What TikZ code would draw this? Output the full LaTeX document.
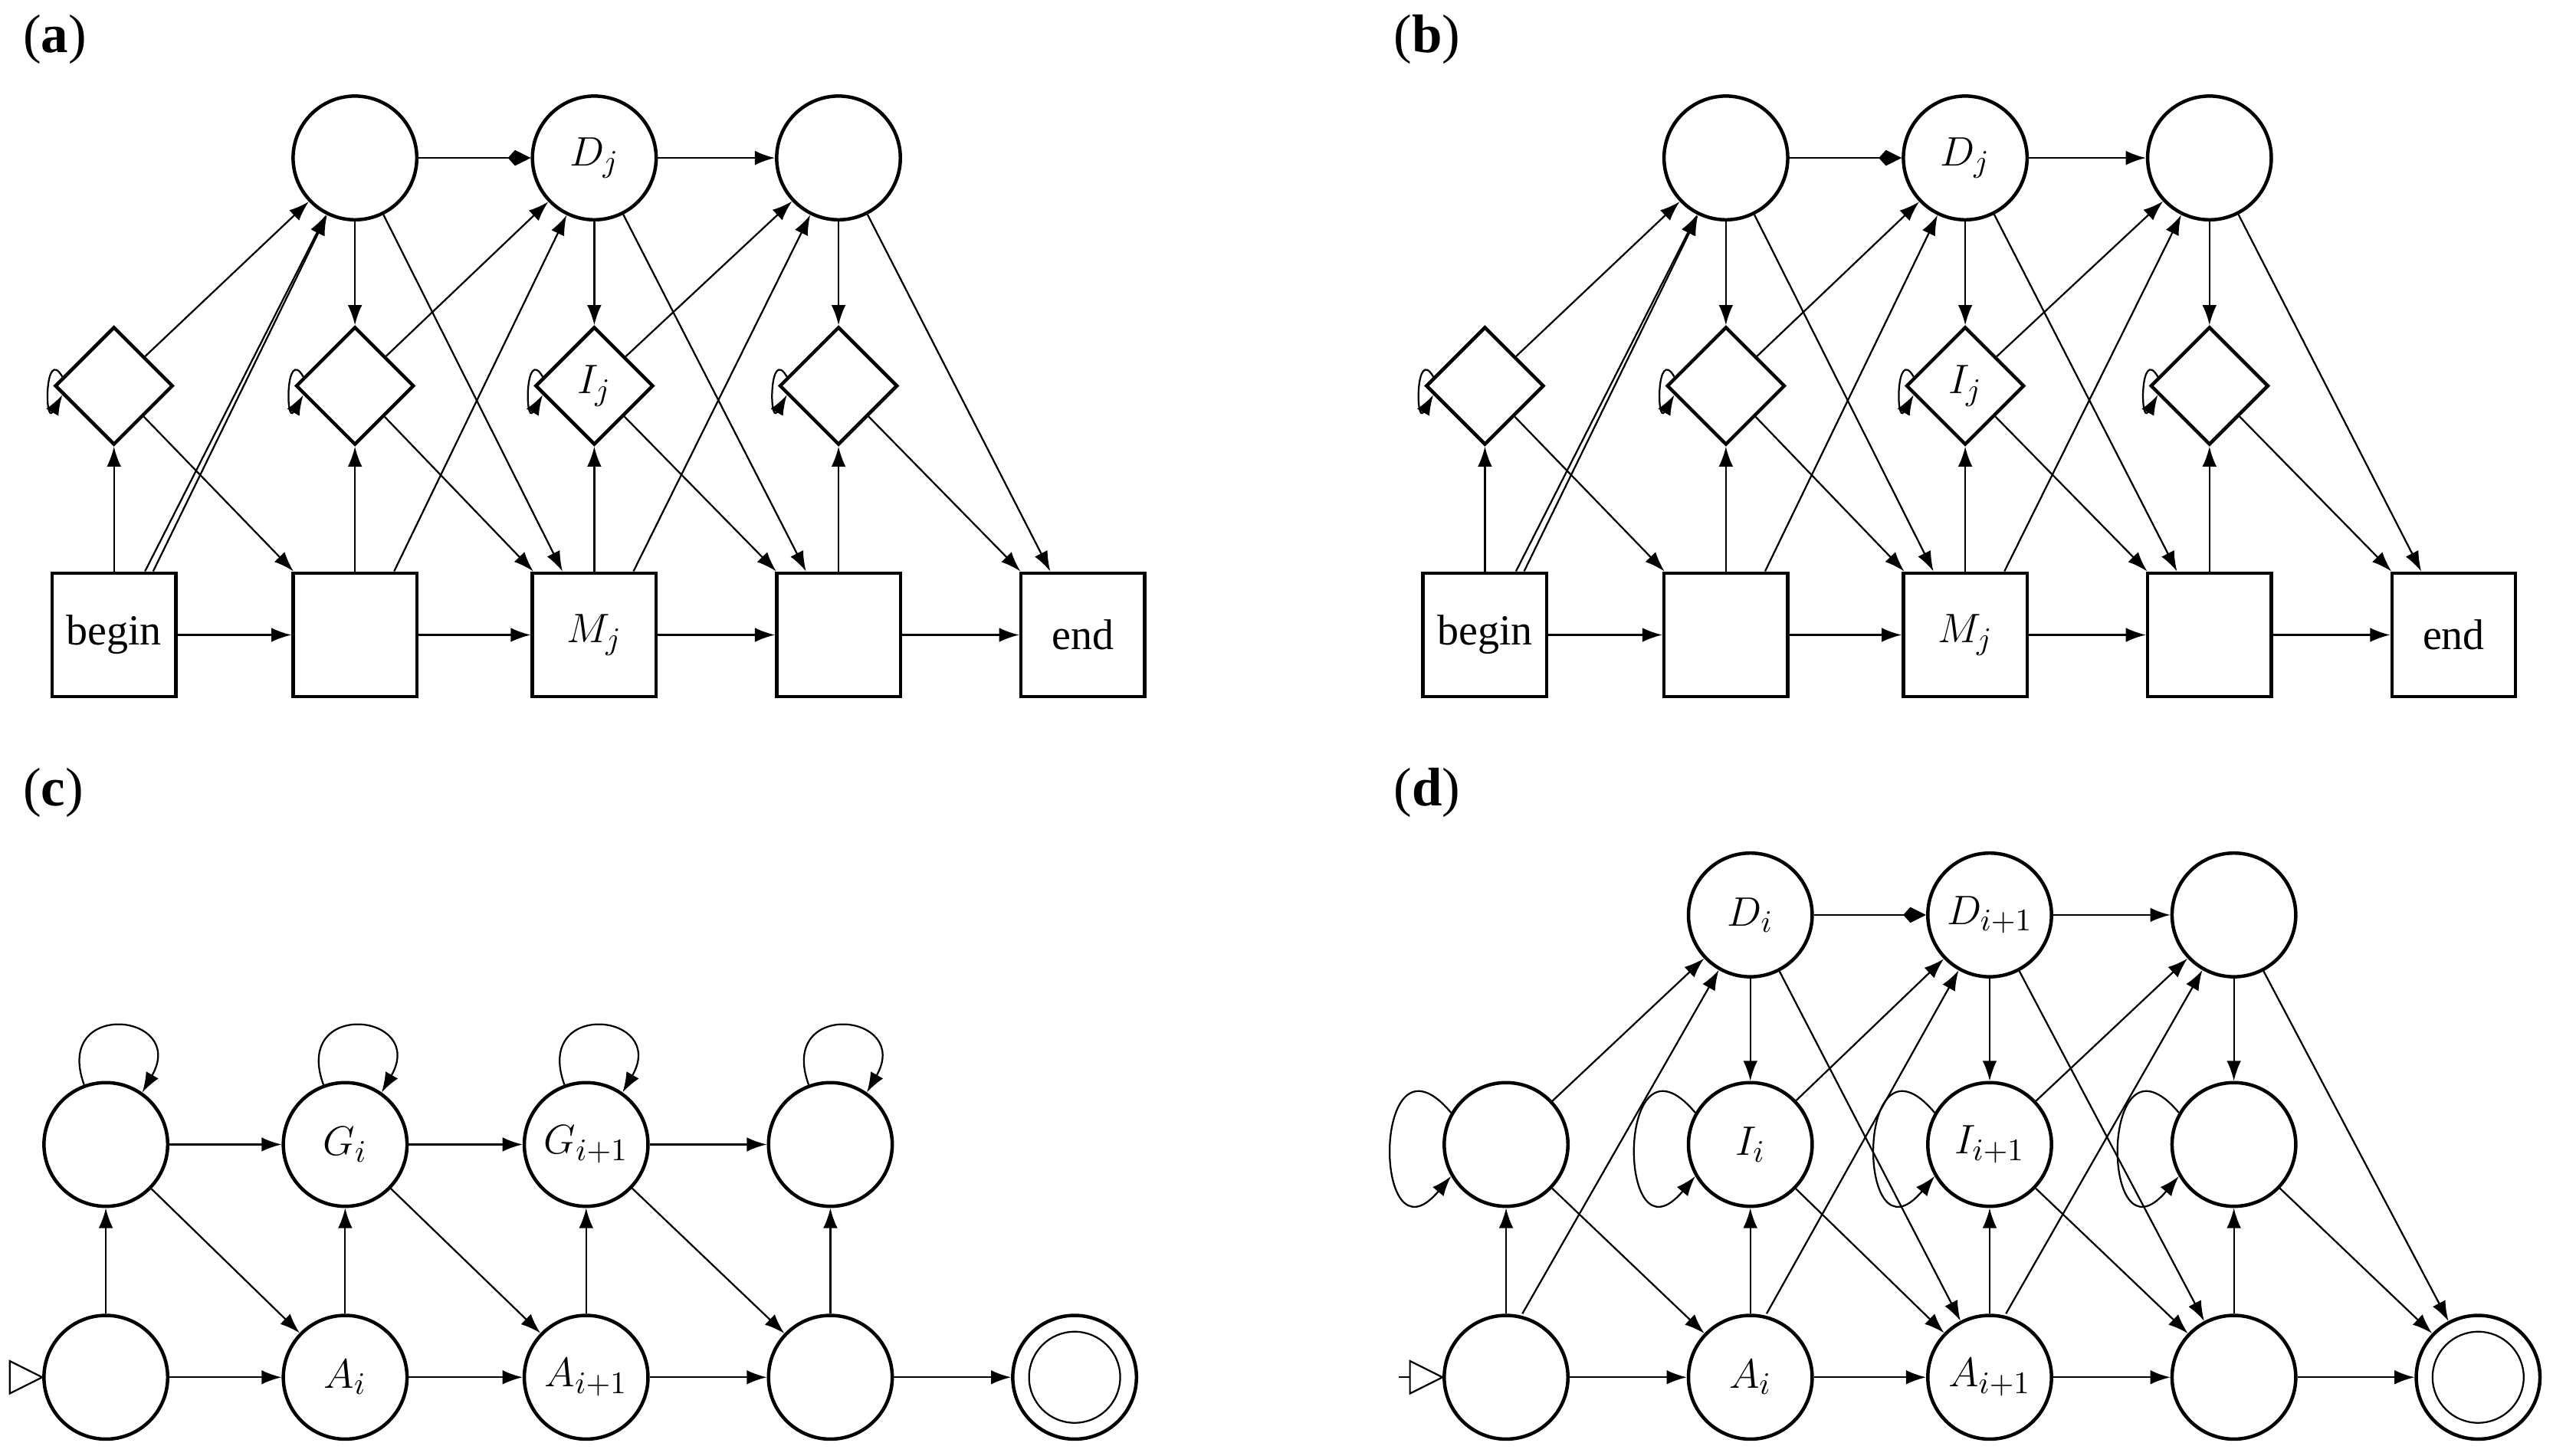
\documentclass[tikz,border=0pt]{standalone}
\usepackage{fontspec}
\setmainfont{Liberation Serif}
\usetikzlibrary{shapes.geometric,arrows.meta}
\begin{document}
\begin{tikzpicture}[x=0.02cm,y=-0.02cm,
  every node/.style={font=\fontsize{15}{18}\selectfont},
  c/.style={circle,draw,line width=1.2pt,minimum size=1.52cm,inner sep=0pt},
  d/.style={diamond,draw,line width=1.2pt,minimum size=1.45cm,inner sep=0pt},
  s/.style={rectangle,draw,line width=1.2pt,minimum size=1.52cm,inner sep=0pt},
  e/.style={-{Latex[length=7pt,width=5pt]},line width=0.6pt},
  k/.style={-{Kite[length=8pt,width=5.5pt,inset=2.5pt]},line width=0.6pt},
  pl/.style={font=\fontsize{19}{22}\selectfont,anchor=west}]
\useasboundingbox (0,0) rectangle (1568,894);
\foreach \sh/\lab in {0/a,842/b}{
\begin{scope}[xshift=\sh*0.02cm]
\node[pl] at (8,24) {(\textbf{\lab})};
\node[c] (c0) at (218,97) {};
\node[c] (c1) at (365,97) {$D_j$};
\node[c] (c2) at (515,97) {};
\node[d] (d0) at (70,237) {};
\node[d] (d1) at (218,237) {};
\node[d] (d2) at (365,237) {$I_j$};
\node[d] (d3) at (515,237) {};
\node[s] (s0) at (70,390) {begin};
\node[s] (s1) at (218,390) {};
\node[s] (s2) at (365,390) {$M_j$};
\node[s] (s3) at (515,390) {};
\node[s] (s4) at (665,390) {end};
\draw[e] (s0)--(s1); \draw[e] (s1)--(s2); \draw[e] (s2)--(s3); \draw[e] (s3)--(s4);
\draw[k] (c0)--(c1); \draw[e] (c1)--(c2);
\draw[e] (s0)--(d0); \draw[e] (s1)--(d1); \draw[e] (s2)--(d2); \draw[e] (s3)--(d3);
\draw[e] (c0)--(d1); \draw[e] (c1)--(d2); \draw[e] (c2)--(d3);
\draw[e] (d0)--(c0); \draw[e] (d1)--(c1); \draw[e] (d2)--(c2);
\draw[e] (s0.north east)++(-20,0) -- (c0);
\draw[e] ([xshift=-0.3cm]s0.north east)--(c0);
\draw[e] ([xshift=-0.3cm]s1.north east)--(c1);
\draw[e] ([xshift=-0.3cm]s2.north east)--(c2);
\draw[e] (d0)--(s1); \draw[e] (d1)--(s2); \draw[e] (d2)--(s3); \draw[e] (d3)--(s4);
\draw[e] (c0)--(s2); \draw[e] (c1)--(s3); \draw[e] (c2)--(s4);
\foreach \n in {d0,d1,d2,d3}{
  \draw[e] (\n.170) to[out=120,in=240,looseness=5] (\n.190);}
\end{scope}}
% (c)
\node[pl] at (8,487) {(\textbf{c})};
\node[c] (t0) at (65,703) {};
\node[c] (t1) at (212,703) {$G_i$};
\node[c] (t2) at (360,703) {$G_{i+1}$};
\node[c] (t3) at (510,703) {};
\node[c] (b0) at (65,846) {};
\node[c] (b1) at (212,846) {$A_i$};
\node[c] (b2) at (360,846) {$A_{i+1}$};
\node[c] (b3) at (510,846) {};
\node[c] (b4) at (660,846) {};
\draw[line width=0.6pt] (b4) circle (0.56cm);
\draw[line width=0.6pt] (b0.west) -- ++(-20,-10) -- ++(0,20) -- cycle;
\foreach \a/\b in {b0/b1,b1/b2,b2/b3,b3/b4,t0/t1,t1/t2,t2/t3,b0/t0,b1/t1,b2/t2,b3/t3,t0/b1,t1/b2,t2/b3}{
  \draw[e] (\a)--(\b);}
\foreach \n in {t0,t1,t2,t3}{
  \draw[e] (\n.110) to[out=110,in=60,looseness=4] (\n.55);}
% (d)
\node[pl] at (850,487) {(\textbf{d})};
\node[c] (D0) at (1075,562) {$D_i$};
\node[c] (D1) at (1222,562) {$D_{i+1}$};
\node[c] (D2) at (1372,562) {};
\node[c] (I0) at (925,703) {};
\node[c] (I1) at (1075,703) {$I_i$};
\node[c] (I2) at (1222,703) {$I_{i+1}$};
\node[c] (I3) at (1372,703) {};
\node[c] (A0) at (925,846) {};
\node[c] (A1) at (1075,846) {$A_i$};
\node[c] (A2) at (1222,846) {$A_{i+1}$};
\node[c] (A3) at (1372,846) {};
\node[c] (A4) at (1522,846) {};
\draw[line width=0.6pt] (A4) circle (0.56cm);
\draw[line width=0.6pt] (A0.west) -- ++(-20,-10) -- ++(0,20) -- cycle;
\draw[line width=0.6pt] ([xshift=-0.4cm]A0.west) -- ++(-7,0);
\draw[k] (D0)--(D1);
\foreach \a/\b in {A0/A1,A1/A2,A2/A3,A3/A4,D1/D2,A0/I0,A1/I1,A2/I2,A3/I3,
  D0/I1,D1/I2,D2/I3,I0/D0,I1/D1,I2/D2,I0/A1,I1/A2,I2/A3,I3/A4,D0/A2,D1/A3,D2/A4}{
  \draw[e] (\a)--(\b);}
\draw[e] ([xshift=0.2cm]A0.north)--(D0);
\draw[e] ([xshift=0.2cm]A1.north)--(D1);
\draw[e] ([xshift=0.2cm]A2.north)--(D2);
\foreach \n in {I0,I1,I2,I3}{
  \draw[e] (\n.150) to[out=130,in=230,looseness=5] (\n.210);}
\end{tikzpicture}
\end{document}
